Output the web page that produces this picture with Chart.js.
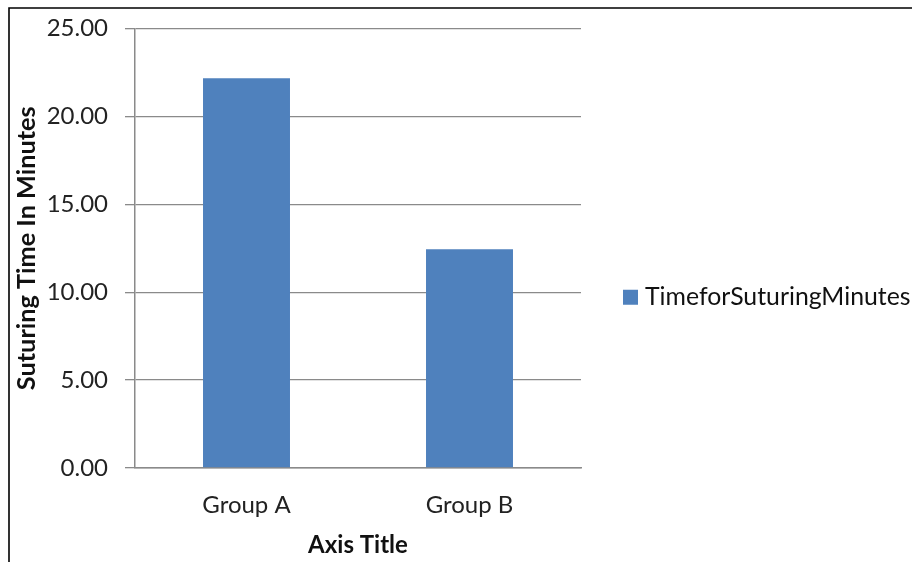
<!DOCTYPE html>
<html>
<head>
<meta charset="utf-8">
<script src="https://cdn.jsdelivr.net/npm/chart.js@4"></script>
<style>
html,body{margin:0;padding:0;background:#fff;}
#wrap{position:relative;width:912px;height:562px;}
</style>
</head>
<body>
<div id="wrap"><canvas id="c" width="912" height="562"></canvas></div>
<script>
const categories = ["Group A", "Group B"];
const seriesName = "TimeforSuturingMinutes";
const seriesValues = [22.17, 12.45];
const yTickValues = [0, 5, 10, 15, 20, 25];
const yTitle = "Suturing Time In Minutes";
const xTitle = "Axis Title";

const FONT = "Lato, 'Open Sans', sans-serif";
const GRID = "#8a8a8a";

const frame = {
  id: "frame",
  afterDraw(chart) {
    const ctx = chart.ctx;
    ctx.save();
    ctx.strokeStyle = "#000";
    ctx.lineWidth = 1.6;
    ctx.beginPath();
    ctx.moveTo(9, 562);
    ctx.lineTo(9, 8);
    ctx.lineTo(912, 8);
    ctx.stroke();
    ctx.restore();
  }
};

// Legend drawn to the right of the plot from the chart's own dataset
const sideLegend = {
  id: "sideLegend",
  afterDraw(chart) {
    const ctx = chart.ctx;
    const area = chart.chartArea;
    const midY = (area.top + area.bottom) / 2 + 49;
    const x0 = area.right + 42;
    ctx.save();
    chart.data.datasets.forEach((ds, i) => {
      const y = midY + i * 30;
      ctx.fillStyle = ds.backgroundColor;
      ctx.fillRect(x0, y - 7.5, 15, 15);
      ctx.fillStyle = "#111";
      ctx.font = "24.8px " + FONT;
      ctx.textBaseline = "middle";
      ctx.textAlign = "left";
      ctx.fillText(ds.label, x0 + 22, y);
    });
    ctx.restore();
  }
};

new Chart(document.getElementById("c"), {
  type: "bar",
  data: {
    labels: categories,
    datasets: [{
      label: seriesName,
      data: seriesValues,
      backgroundColor: "#4F81BD",
      borderWidth: 0,
      categoryPercentage: 1,
      barPercentage: 0.39
    }]
  },
  options: {
    responsive: false,
    animation: false,
    layout: { padding: { left: 10, top: 28.5, right: 331, bottom: 2 } },
    plugins: {
      legend: { display: false },
      tooltip: { enabled: false }
    },
    scales: {
      x: {
        afterFit(scale) { scale.height = 92; },
        grid: { display: false, drawTicks: false },
        border: { display: true, color: GRID, width: 1.5 },
        ticks: { color: "#222", padding: 23, font: { family: FONT, size: 24 } },
        title: { display: true, text: xTitle, color: "#111", padding: { top: 4, bottom: 0 }, font: { family: FONT, size: 24, weight: "bold" } }
      },
      y: {
        min: 0,
        max: 25,
        afterFit(scale) { scale.width = 125; scale.paddingTop = 0; scale.paddingBottom = 0; },
        afterBuildTicks(scale) { scale.ticks = yTickValues.map(v => ({ value: v })); },
        grid: { color: GRID, lineWidth: 1.3, tickLength: 10, drawTicks: true },
        border: { display: true, color: GRID, width: 1.5 },
        ticks: {
          color: "#222",
          padding: 17,
          font: { family: FONT, size: 24 },
          callback: v => Number(v).toFixed(2)
        },
        title: { display: true, text: yTitle, color: "#111", padding: { top: 2, bottom: 0 }, font: { family: FONT, size: 25.3, weight: "bold" } }
      }
    }
  },
  plugins: [frame, sideLegend]
});
</script>
</body>
</html>
